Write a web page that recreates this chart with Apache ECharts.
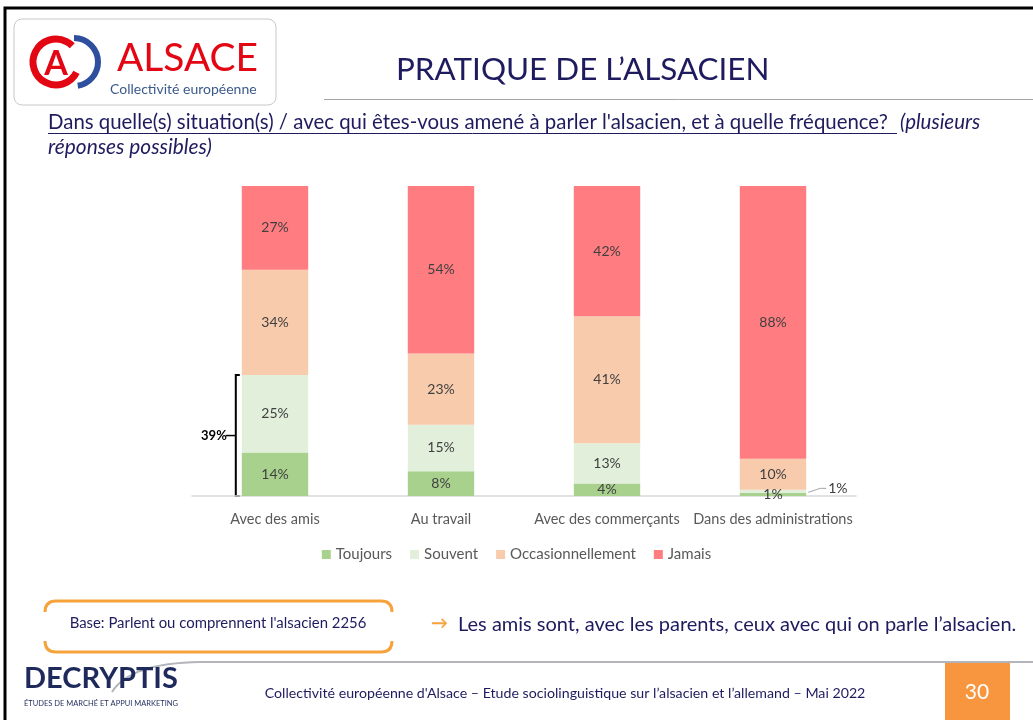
<!DOCTYPE html>
<html>
<head>
<meta charset="utf-8">
<script src="https://cdn.jsdelivr.net/npm/echarts@6/dist/echarts.min.js"></script>
<style>
  html, body { margin: 0; padding: 0; background: #fff; }
  #main { width: 1033px; height: 720px; }
</style>
</head>
<body>
<div id="main"></div>
<script>
var categories = ['Avec des amis', 'Au travail', 'Avec des commerçants', 'Dans des administrations'];
var seriesNames = ['Toujours', 'Souvent', 'Occasionnellement', 'Jamais'];
var toujours = [14, 8, 4, 1];
var souvent = [25, 15, 13, 1];
var occasionnellement = [34, 23, 41, 10];
var jamais = [27, 54, 42, 88];
var totalAmis = 39; // Toujours + Souvent, avec des amis

var colors = ['#a9d18e', '#e2efda', '#f8cbad', '#ff7c80'];
var navy = '#1e1b5e';
var family = 'Lato, "Open Sans", sans-serif';

var measureCtx = document.createElement('canvas').getContext('2d');
function textWidth(str, f) {
    measureCtx.font = f;
    return measureCtx.measureText(str).width;
}
// taille de police pour qu'un texte occupe la largeur voulue
function fit(str, w, style) {
    var pre = style ? style + ' ' : '';
    var size = 20 * w / textWidth(str, pre + '20px ' + family);
    return pre + size.toFixed(1) + 'px ' + family;
}
function txt(x, y, str, f, fill, align) {
    return { type: 'text', style: { x: x, y: y, text: str, font: f, fill: fill, align: align || 'left', verticalAlign: 'middle' } };
}

var myChart = echarts.init(document.getElementById('main'));

function mkSeries(name, data, idx) {
    return {
        name: name,
        type: 'bar',
        stack: 'total',
        barWidth: '40%',
        color: colors[idx],
        data: data.map(function (v, i) {
            var item = { value: v };
            // le 1% "Souvent" des administrations est sorti à droite
            if (idx === 1 && i === 3) {
                item.label = { position: 'right', distance: 22, offset: [0, -3] };
            }
            return item;
        }),
        label: {
            show: true,
            position: 'inside',
            formatter: '{c}%',
            color: '#404040',
            fontFamily: family,
            fontSize: 14
        }
    };
}

myChart.setOption({
    animation: false,
    grid: { left: 192, right: 177, top: 186, bottom: 224 },
    xAxis: {
        type: 'category',
        data: categories,
        axisLine: { lineStyle: { color: '#d9d9d9', width: 1.5 } },
        axisTick: { show: false },
        axisLabel: { interval: 0, color: '#595959', fontFamily: family, fontSize: 14.5, margin: 16 }
    },
    yAxis: { type: 'value', min: 0, max: 100, show: false },
    legend: {
        top: 542,
        left: 'center',
        icon: 'rect',
        itemWidth: 9,
        itemHeight: 9,
        itemGap: 18,
        textStyle: { color: '#595959', fontFamily: family, fontSize: 15 },
        data: seriesNames
    },
    series: [
        mkSeries(seriesNames[0], toujours, 0),
        mkSeries(seriesNames[1], souvent, 1),
        mkSeries(seriesNames[2], occasionnellement, 2),
        mkSeries(seriesNames[3], jamais, 3)
    ]
});

// positions pour l'accolade et le trait du 1%
var pBase = myChart.convertToPixel({ seriesIndex: 0 }, [0, 0]);
var pTop = myChart.convertToPixel({ seriesIndex: 0 }, [0, toujours[0] + souvent[0]]);
var band = (1033 - 192 - 177) / categories.length;
var barW = band * 0.4;
var bx = pBase[0] - barW / 2 - 6;
var pAdm = myChart.convertToPixel({ seriesIndex: 0 }, [3, toujours[3] + souvent[3] / 2]);
var admRight = pAdm[0] + barW / 2;
var midY = (pBase[1] + pTop[1]) / 2;

var q1 = "Dans quelle(s) situation(s) / avec qui êtes-vous amené à parler l'alsacien, et à quelle fréquence?";
var orange = '#f5a33a';
var graphics = [
    // cadre
    { type: 'polyline', shape: { points: [[5, 720], [5, 8], [1033, 8]] }, style: { stroke: '#000', lineWidth: 3, fill: null } },
    // logo Alsace
    { type: 'rect', shape: { x: 14, y: 19, width: 262, height: 86, r: 8 }, style: { fill: '#fff', stroke: '#c8c8c8', lineWidth: 1 } },
    { type: 'arc', shape: { cx: 56, cy: 62, r: 23, startAngle: Math.PI * 0.15, endAngle: Math.PI * 1.75 }, style: { stroke: '#e30613', lineWidth: 7, fill: null } },
    txt(56, 64, 'A', 'bold 34px ' + family, '#e30613', 'center'),
    { type: 'arc', shape: { cx: 74, cy: 62, r: 24, startAngle: -Math.PI * 0.5, endAngle: Math.PI * 0.45 }, style: { stroke: '#2d4f9e', lineWidth: 6, fill: null } },
    txt(117, 58, 'ALSACE', fit('ALSACE', 141), '#e30613'),
    txt(110, 89, 'Collectivité européenne', fit('Collectivité européenne', 147), '#3b5a8c'),
    // titre
    txt(396, 70, 'PRATIQUE DE L’ALSACIEN', fit('PRATIQUE DE L’ALSACIEN', 374), navy),
    { type: 'line', shape: { x1: 324, y1: 99.5, x2: 1033, y2: 99.5 }, style: { stroke: '#a6a6a6', lineWidth: 1 } },
    // question
    txt(48, 122, q1, fit(q1, 842), navy),
    { type: 'line', shape: { x1: 48, y1: 133.5, x2: 897, y2: 133.5 }, style: { stroke: navy, lineWidth: 1 } },
    txt(900, 122, '(plusieurs', fit('(plusieurs', 80, 'italic'), navy),
    txt(48, 147, 'réponses possibles)', fit('réponses possibles)', 164, 'italic'), navy),
    // accolade 39%
    { type: 'polyline', shape: { points: [[bx + 4, pTop[1]], [bx, pTop[1]], [bx, pBase[1]], [bx + 4, pBase[1]]] }, style: { stroke: '#000', lineWidth: 2, fill: null } },
    { type: 'line', shape: { x1: bx - 10, y1: midY, x2: bx, y2: midY }, style: { stroke: '#000', lineWidth: 1.5 } },
    txt(bx - 9, midY, totalAmis + '%', 'bold 13px ' + family, '#000', 'right'),
    // trait vers le 1%
    { type: 'polyline', shape: { points: [[admRight + 2, pAdm[1] + 1], [admRight + 14, pAdm[1] - 3], [admRight + 20, pAdm[1] - 3]] }, style: { stroke: '#a6a6a6', lineWidth: 1, fill: null } },
    // encadré base
    { type: 'bezierCurve', shape: { x1: 45, y1: 612, cpx1: 45, cpy1: 601, x2: 56, y2: 601 }, style: { stroke: orange, lineWidth: 3, fill: null } },
    { type: 'line', shape: { x1: 56, y1: 601, x2: 381, y2: 601 }, style: { stroke: orange, lineWidth: 3 } },
    { type: 'bezierCurve', shape: { x1: 381, y1: 601, cpx1: 392, cpy1: 601, x2: 392, y2: 612 }, style: { stroke: orange, lineWidth: 3, fill: null } },
    { type: 'bezierCurve', shape: { x1: 45, y1: 641, cpx1: 45, cpy1: 652, x2: 56, y2: 652 }, style: { stroke: orange, lineWidth: 3, fill: null } },
    { type: 'line', shape: { x1: 56, y1: 652, x2: 381, y2: 652 }, style: { stroke: orange, lineWidth: 3 } },
    { type: 'bezierCurve', shape: { x1: 381, y1: 652, cpx1: 392, cpy1: 652, x2: 392, y2: 641 }, style: { stroke: orange, lineWidth: 3, fill: null } },
    txt(218, 623, "Base: Parlent ou comprennent l'alsacien 2256", fit("Base: Parlent ou comprennent l'alsacien 2256", 297), navy, 'center'),
    txt(431, 624, '→', 'bold 17px ' + family, orange),
    txt(458, 625, 'Les amis sont, avec les parents, ceux avec qui on parle l’alsacien.',
        fit('Les amis sont, avec les parents, ceux avec qui on parle l’alsacien.', 557), navy),
    // pied de page
    { type: 'bezierCurve', shape: { x1: 112, y1: 692, cpx1: 130, cpy1: 663, x2: 200, y2: 662 }, style: { stroke: '#b4b4bc', lineWidth: 2, fill: null } },
    { type: 'line', shape: { x1: 200, y1: 662, x2: 1033, y2: 662 }, style: { stroke: '#b4b4bc', lineWidth: 2 } },
    txt(24, 679, 'DECRYPTIS', fit('DECRYPTIS', 154, 'bold'), '#1f2a5c'),
    txt(24, 704, 'ÉTUDES DE MARCHÉ ET APPUI MARKETING', fit('ÉTUDES DE MARCHÉ ET APPUI MARKETING', 154), '#1f2a5c'),
    txt(565, 693, 'Collectivité européenne d\'Alsace – Etude sociolinguistique sur l’alsacien et l’allemand – Mai 2022',
        fit('Collectivité européenne d\'Alsace – Etude sociolinguistique sur l’alsacien et l’allemand – Mai 2022', 601), navy, 'center'),
    { type: 'rect', shape: { x: 945, y: 663, width: 65, height: 57 }, style: { fill: '#f7963f' } },
    txt(977, 692, '30', '21px ' + family, '#fff', 'center')
];

myChart.setOption({ graphic: { elements: graphics } });
</script>
</body>
</html>
